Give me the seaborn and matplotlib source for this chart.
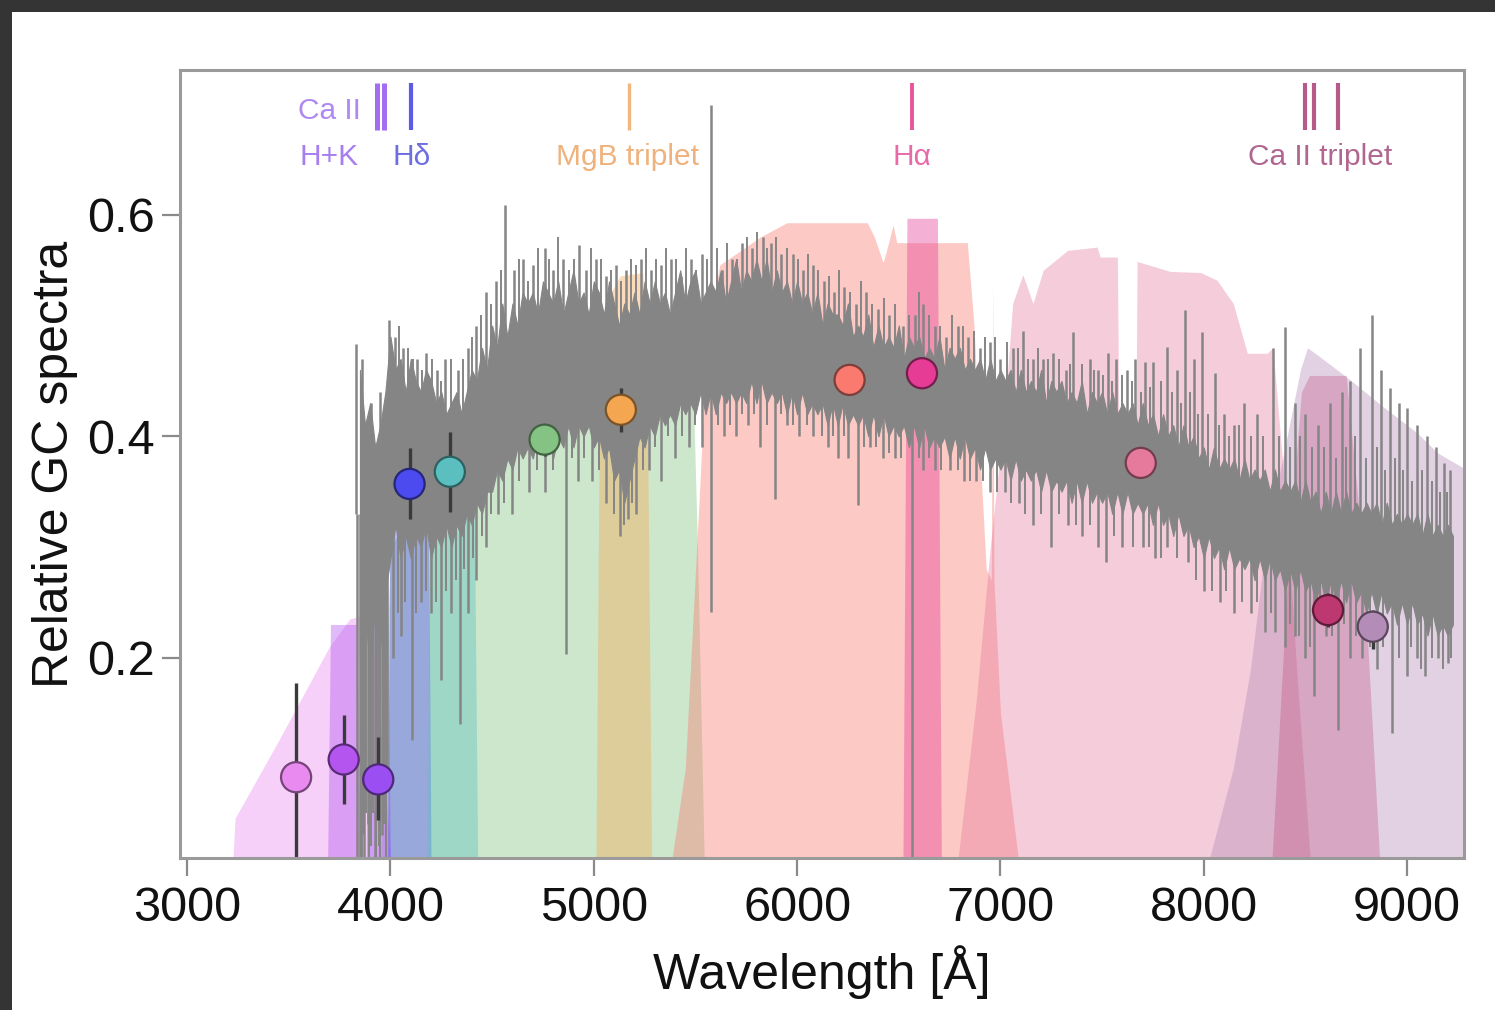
import numpy as np
import matplotlib
matplotlib.use("Agg")
import matplotlib.pyplot as plt
from matplotlib.patches import Rectangle
import matplotlib.colors as mcolors
import seaborn as sns
import pandas as pd

# ---------------- photometry (12 bands) ----------------
band_names = ["u", "J0378", "J0395", "J0410", "J0430", "g",
              "J0515", "r", "J0660", "i", "J0861", "z"]
band_wave = [3536, 3770, 3940, 4094, 4292, 4758, 5133, 6258, 6614, 7690, 8611, 8831]
band_flux = [0.092, 0.108, 0.090, 0.357, 0.368, 0.397, 0.424, 0.451, 0.457, 0.376, 0.243, 0.228]
band_err_lo = [0.092, 0.040, 0.037, 0.032, 0.036, 0.015, 0.020, 0.010, 0.010, 0.010, 0.015, 0.020]
band_err_hi = [0.085, 0.040, 0.038, 0.032, 0.036, 0.010, 0.020, 0.010, 0.010, 0.010, 0.015, 0.015]
band_colors = ["#e98af0", "#b455f0", "#9b4ff2", "#4b4bf0", "#5cbfbf", "#84c384",
               "#f5a650", "#fa7a70", "#e63c96", "#e67a9c", "#bd3870", "#b48cb8"]
filt_alpha = [0.40, 0.40, 0.40, 0.40, 0.40, 0.40, 0.40, 0.40, 0.40, 0.38, 0.28, 0.40]

# ---------------- filter transmission curves ----------------
u_filt_wave = [3220, 3236, 3450, 3700, 3800, 3900, 3960, 4010]
u_filt_trans = [0.0, 0.055, 0.125, 0.21, 0.235, 0.24, 0.12, 0.0]
j0378_filt_wave = [3690, 3705, 3835, 3850]
j0378_filt_trans = [0.0, 0.23, 0.23, 0.0]
j0395_filt_wave = [3880, 3895, 3985, 4000]
j0395_filt_trans = [0.0, 0.30, 0.30, 0.0]
j0410_filt_wave = [3985, 4000, 4185, 4200]
j0410_filt_trans = [0.0, 0.40, 0.40, 0.0]
j0430_filt_wave = [4180, 4195, 4410, 4430]
j0430_filt_trans = [0.0, 0.38, 0.38, 0.0]
g_filt_wave = [3950, 4000, 4200, 4400, 4500, 4600, 5300, 5480, 5510, 5545]
g_filt_trans = [0.0, 0.30, 0.36, 0.40, 0.45, 0.48, 0.50, 0.50, 0.30, 0.0]
j0515_filt_wave = [5010, 5030, 5070, 5130, 5240, 5260, 5285]
j0515_filt_trans = [0.0, 0.48, 0.525, 0.545, 0.548, 0.50, 0.0]
r_filt_wave = [5370, 5450, 5520, 5560, 5620, 5700, 5818, 5950, 6345, 6380, 6423, 6450,
               6472, 6490, 6517, 6837, 6870, 6895, 6930, 6955, 6962, 6968, 7000, 7100]
r_filt_trans = [0.0, 0.10, 0.35, 0.50, 0.555, 0.565, 0.58, 0.593, 0.593, 0.58, 0.557, 0.575,
                0.591, 0.575, 0.575, 0.575, 0.50, 0.40, 0.28, 0.27, 0.54, 0.27, 0.15, 0.0]
j0660_filt_wave = [6520, 6540, 6690, 6710]
j0660_filt_trans = [0.0, 0.597, 0.597, 0.0]
i_filt_wave = [6780, 6880, 6950, 7020, 7060, 7110, 7160, 7210, 7330, 7475, 7490, 7575, 7585,
               7665, 7672, 7835, 7985, 8065, 8145, 8214, 8312, 8340, 8400, 8460, 8530]
i_filt_trans = [0.0, 0.16, 0.30, 0.42, 0.52, 0.546, 0.52, 0.55, 0.568, 0.571, 0.562, 0.562, 0.35,
                0.35, 0.558, 0.549, 0.548, 0.541, 0.52, 0.475, 0.475, 0.48, 0.35, 0.18, 0.0]
j0861_filt_wave = [8330, 8420, 8480, 8520, 8700, 8780, 8870]
j0861_filt_trans = [0.0, 0.30, 0.44, 0.455, 0.455, 0.30, 0.0]
z_filt_wave = [8000, 8030, 8145, 8230, 8310, 8410, 8475, 8510, 8570, 8720, 8880, 9050, 9150, 9290]
z_filt_trans = [0.0, 0.02, 0.10, 0.19, 0.31, 0.40, 0.46, 0.48, 0.472, 0.451, 0.427, 0.403, 0.385, 0.37]

# ---------------- GC spectrum (25 A sampling, 3850-9225 A) ----------------
spec_wave = np.arange(3850, 9226, 25)
spec_high = [0.46, 0.41,
             0.43, 0.39, 0.41, 0.44,  0.49, 0.46, 0.47, 0.44,  0.47, 0.45, 0.44, 0.46,
             0.45, 0.43, 0.44, 0.42,  0.43, 0.44, 0.42, 0.44,  0.46, 0.45, 0.48, 0.46,
             0.50, 0.48, 0.52, 0.49,  0.52, 0.50, 0.53, 0.52,  0.53, 0.51, 0.54, 0.53,
             0.52, 0.54, 0.51, 0.53,  0.55, 0.52, 0.53, 0.51,  0.54, 0.53, 0.51, 0.54,
             0.52, 0.50, 0.52, 0.51,  0.53, 0.51, 0.54, 0.52,  0.54, 0.52, 0.53, 0.51,
             0.53, 0.55, 0.52, 0.54,  0.55, 0.52, 0.53, 0.54,  0.53, 0.55, 0.52, 0.54,
             0.56, 0.53, 0.55, 0.54,  0.56, 0.54, 0.56, 0.53,  0.55, 0.53, 0.54, 0.52,
             0.54, 0.52, 0.53, 0.51,  0.53, 0.50, 0.52, 0.51,  0.51, 0.50, 0.52, 0.49,
             0.50, 0.49, 0.51, 0.48,  0.50, 0.48, 0.49, 0.48,  0.50, 0.47, 0.49, 0.48,
             0.49, 0.47, 0.48, 0.47,  0.49, 0.46, 0.48, 0.47,  0.48, 0.46, 0.47, 0.46,
             0.47, 0.45, 0.47, 0.45,  0.46, 0.45, 0.46, 0.44,  0.46, 0.44, 0.45, 0.44,
             0.46, 0.43, 0.45, 0.44,  0.45, 0.43, 0.44, 0.43,  0.45, 0.42, 0.44, 0.43,
             0.44, 0.42, 0.44, 0.42,  0.43, 0.42, 0.43, 0.41,  0.43, 0.41, 0.42, 0.40,
             0.42, 0.40, 0.41, 0.39,  0.41, 0.39, 0.40, 0.38,  0.39, 0.37, 0.39, 0.37,
             0.38, 0.37, 0.38, 0.36,  0.38, 0.36, 0.37, 0.36,  0.37, 0.35, 0.37, 0.35,
             0.36, 0.35, 0.36, 0.34,  0.36, 0.34, 0.35, 0.33,  0.35, 0.33, 0.35, 0.33,
             0.35, 0.33, 0.34, 0.33,  0.34, 0.33, 0.34, 0.32,  0.34, 0.32, 0.33, 0.32,
             0.33, 0.32, 0.33, 0.31,  0.33, 0.31, 0.32, 0.31,
             0.32, 0.31]
spec_low = [0.20, 0.24,
            0.19, 0.25, 0.21, 0.26,  0.29, 0.32, 0.29, 0.31,  0.29, 0.31, 0.30, 0.32,
            0.29, 0.31, 0.30, 0.32,  0.30, 0.32, 0.31, 0.33,  0.32, 0.34, 0.33, 0.35,
            0.35, 0.37, 0.36, 0.38,  0.37, 0.39, 0.38, 0.39,  0.38, 0.40, 0.39, 0.40,
            0.38, 0.40, 0.39, 0.41,  0.39, 0.41, 0.40, 0.41,  0.39, 0.40, 0.38, 0.39,
            0.36, 0.37, 0.34, 0.36,  0.38, 0.40, 0.39, 0.41,  0.40, 0.42, 0.41, 0.42,
            0.41, 0.43, 0.42, 0.43,  0.42, 0.44, 0.42, 0.44,  0.42, 0.44, 0.43, 0.44,
            0.43, 0.44, 0.43, 0.45,  0.43, 0.45, 0.43, 0.44,  0.43, 0.44, 0.42, 0.44,
            0.42, 0.44, 0.42, 0.43,  0.42, 0.43, 0.41, 0.43,  0.41, 0.43, 0.41, 0.42,
            0.41, 0.42, 0.40, 0.42,  0.40, 0.42, 0.40, 0.41,  0.40, 0.41, 0.39, 0.41,
            0.39, 0.41, 0.39, 0.40,  0.39, 0.40, 0.38, 0.40,  0.38, 0.40, 0.38, 0.39,
            0.37, 0.39, 0.37, 0.38,  0.37, 0.38, 0.36, 0.38,  0.36, 0.37, 0.36, 0.37,
            0.35, 0.37, 0.35, 0.36,  0.35, 0.36, 0.34, 0.36,  0.34, 0.36, 0.34, 0.35,
            0.34, 0.35, 0.33, 0.35,  0.33, 0.35, 0.33, 0.34,  0.33, 0.34, 0.32, 0.34,
            0.32, 0.33, 0.31, 0.33,  0.31, 0.32, 0.30, 0.31,  0.29, 0.31, 0.29, 0.30,
            0.28, 0.30, 0.28, 0.29,  0.28, 0.29, 0.27, 0.29,  0.27, 0.29, 0.27, 0.28,
            0.26, 0.28, 0.26, 0.28,  0.26, 0.27, 0.25, 0.27,  0.25, 0.27, 0.25, 0.27,
            0.25, 0.27, 0.25, 0.26,  0.24, 0.26, 0.24, 0.26,  0.24, 0.25, 0.23, 0.25,
            0.23, 0.25, 0.23, 0.24,  0.22, 0.24, 0.22, 0.23,
            0.22, 0.23]

# strong pixels rising above the dense band
up_hair_wave = [3830, 3862, 3905, 3950, 3995, 4020, 4060, 4130, 4175, 4230,
                4270, 4330, 4380, 4420, 4470, 4520, 4565, 4610, 4650, 4700,
                4760, 4800, 4850, 4925, 4960, 5010, 5060, 5110, 5160, 5230,
                5280, 5330, 5380, 5430, 5480, 5530, 5577, 5630, 5680, 5730,
                5780, 5830, 5870, 5920, 5980, 6030, 6080, 6130, 6180, 6230,
                6290, 6340, 6400, 6450, 6520, 6580, 6620, 6680, 6730, 6790,
                6840, 6900, 6950, 7000, 7060, 7110, 7160, 7210, 7260, 7320,
                7358, 7440, 7480, 7530, 7570, 7620, 7660, 7713, 7750, 7820,
                7870, 7910, 7950, 7990, 8055, 8100, 8150, 8200, 8260, 8340,
                8400, 8450, 8500, 8560, 8620, 8680, 8720, 8770, 8825, 8870,
                8915, 8960, 9000, 9050, 9100, 9140, 9180, 9210]
up_hair_top = [0.483, 0.47, 0.43, 0.44, 0.505, 0.49, 0.48, 0.47, 0.475, 0.46,
               0.47, 0.46, 0.48, 0.50, 0.53, 0.54, 0.609, 0.55, 0.56, 0.555,
               0.57, 0.55, 0.56, 0.573, 0.55, 0.56, 0.545, 0.555, 0.55, 0.56,
               0.55, 0.555, 0.56, 0.545, 0.56, 0.565, 0.699, 0.55, 0.56, 0.575,
               0.57, 0.58, 0.575, 0.565, 0.565, 0.55, 0.555, 0.54, 0.53, 0.535,
               0.52, 0.53, 0.515, 0.51, 0.50, 0.51, 0.52, 0.50, 0.49, 0.50,
               0.49, 0.48, 0.485, 0.47, 0.48, 0.495, 0.47, 0.47, 0.475, 0.46,
               0.494, 0.47, 0.46, 0.475, 0.47, 0.46, 0.47, 0.467, 0.467, 0.481,
               0.46, 0.514, 0.47, 0.494, 0.457, 0.42, 0.41, 0.43, 0.42, 0.48,
               0.499, 0.43, 0.42, 0.41, 0.43, 0.44, 0.45, 0.48, 0.51, 0.46,
               0.444, 0.43, 0.426, 0.41, 0.40, 0.39, 0.376, 0.37]
up_fine_wave = [4040, 4085, 4110, 4155, 4205, 4250, 4300, 4355, 4400, 4445, 4495, 4545,
                4630, 4675, 4725, 4780, 4825, 4880, 4905, 4985, 5035, 5085, 5135, 5185,
                5210, 5255, 5305, 5355, 5405, 5455, 5505, 5555, 5605, 5655,
                5705, 5755, 5805, 5850, 5895, 5950, 6005, 6055, 6105, 6155,
                6205, 6260, 6315, 6370, 6425, 6480, 6550, 6600, 6650, 6705,
                6760, 6815, 6870, 6925, 6975, 7030, 7085, 7135, 7185, 7235,
                7290, 7340, 7400, 7460, 7505, 7550, 7600, 7645, 7690, 7735,
                7790, 7845, 7890, 7930, 7970, 8020,
                8075, 8125, 8175, 8230, 8290, 8370, 8425, 8475, 8530, 8590,
                8650, 8700, 8745, 8800, 8850, 8890, 8940, 8980, 9025, 9075,
                9120, 9160, 9195]
up_fine_top = [0.50, 0.48, 0.47, 0.46, 0.47, 0.45, 0.47, 0.47, 0.49, 0.51, 0.52, 0.55,
               0.56, 0.54, 0.57, 0.56, 0.58, 0.55, 0.56, 0.57, 0.56, 0.55, 0.54, 0.56,
               0.555, 0.57, 0.56, 0.57, 0.56, 0.57, 0.55, 0.56, 0.57, 0.575,
               0.56, 0.58, 0.585, 0.57, 0.58, 0.57, 0.56, 0.565, 0.55, 0.545,
               0.55, 0.53, 0.54, 0.52, 0.525, 0.52, 0.51, 0.53, 0.51, 0.50,
               0.51, 0.50, 0.495, 0.49, 0.49, 0.485, 0.48, 0.47, 0.48, 0.47,
               0.47, 0.465, 0.465, 0.46, 0.455, 0.45, 0.455, 0.45, 0.44, 0.445,
               0.45, 0.44, 0.43, 0.44, 0.42, 0.42,
               0.41, 0.40, 0.41, 0.40, 0.40, 0.40, 0.39, 0.40, 0.39, 0.39,
               0.38, 0.39, 0.40, 0.38, 0.39, 0.37, 0.38, 0.37, 0.36, 0.37,
               0.36, 0.35, 0.35]

# absorption features and low pixels dropping below the band
dn_hair_wave = [3835, 3848, 3872, 3890, 3922, 3960, 3985, 4015, 4050, 4105,
                4150, 4200, 4250, 4300, 4340, 4380, 4420, 4470, 4530, 4600,
                4680, 4760, 4862, 4920, 4990, 5060, 5130, 5170, 5210, 5270,
                5330, 5400, 5470, 5530, 5577, 5640, 5700, 5760, 5815, 5890,
                5950, 6010, 6080, 6150, 6200, 6250, 6300, 6360, 6420, 6480,
                6563, 6620, 6680, 6750, 6820, 6880, 6950, 7020, 7090, 7160,
                7250, 7330, 7400, 7480, 7520, 7600, 7700, 7760, 7820, 7920,
                8000, 8080, 8150, 8230, 8300, 8350, 8400, 8450, 8498, 8542,
                8600, 8662, 8720, 8780, 8850, 8925, 9000, 9050, 9090, 9150,
                9200]
dn_hair_bot = [0.02, 0.02, 0.02, 0.05, 0.02, 0.04, 0.10, 0.20, 0.22, 0.126,
               0.25, 0.24, 0.18, 0.24, 0.14, 0.24, 0.27, 0.30, 0.33, 0.33,
               0.35, 0.35, 0.203, 0.36, 0.36, 0.34, 0.31, 0.325, 0.33, 0.37,
               0.36, 0.38, 0.39, 0.39, 0.241, 0.40, 0.40, 0.41, 0.39, 0.343,
               0.41, 0.40, 0.40, 0.39, 0.38, 0.38, 0.338, 0.39, 0.38, 0.38,
               0.02, 0.37, 0.37, 0.37, 0.36, 0.36, 0.35, 0.35, 0.34, 0.32,
               0.30, 0.32, 0.31, 0.30, 0.286, 0.30, 0.30, 0.29, 0.30, 0.286,
               0.26, 0.25, 0.24, 0.24, 0.223, 0.223, 0.21, 0.22, 0.20, 0.165,
               0.22, 0.135, 0.20, 0.20, 0.19, 0.132, 0.183, 0.20, 0.183, 0.20,
               0.195]
dn_fine_wave = [3855, 3860, 3867, 3880, 3895, 3905, 3912, 3928, 3935, 3942, 3950, 3966,
                3972, 3978, 4035, 4070, 4125, 4175, 4225, 4275,
                4320, 4360, 4405, 4450, 4495, 4560,
                4630, 4720, 4800, 4895, 4950, 5025, 5100, 5150, 5190, 5240,
                5300, 5365, 5435, 5500, 5610, 5670, 5730, 5790, 5850, 5920,
                5980, 6050, 6120, 6175, 6230, 6330, 6390, 6450, 6510, 6600,
                6650, 6710, 6790, 6850, 6915, 6985, 7050, 7120, 7200, 7290,
                7370, 7440, 7560, 7650, 7730, 7790, 7870, 7960, 8040, 8110,
                8190, 8260, 8330, 8425, 8470, 8520, 8570, 8630, 8690, 8750,
                8815, 8880, 8960, 9020, 9070, 9120, 9175, 9215]
dn_fine_bot = [0.02, 0.02, 0.04, 0.06, 0.02, 0.03, 0.06, 0.02, 0.08, 0.03, 0.02, 0.05,
               0.12, 0.02, 0.24, 0.25, 0.24, 0.26, 0.25, 0.26,
               0.27, 0.28, 0.29, 0.31, 0.33, 0.34,
               0.36, 0.37, 0.37, 0.38, 0.38, 0.37, 0.33, 0.32, 0.34, 0.37,
               0.39, 0.40, 0.40, 0.41, 0.41, 0.41, 0.42, 0.42, 0.41, 0.42,
               0.41, 0.41, 0.40, 0.40, 0.40, 0.39, 0.39, 0.385, 0.38, 0.38,
               0.38, 0.37, 0.37, 0.36, 0.36, 0.35, 0.34, 0.33, 0.33, 0.33,
               0.32, 0.32, 0.31, 0.30, 0.30, 0.29, 0.29, 0.27, 0.26, 0.26,
               0.25, 0.25, 0.24, 0.23, 0.22, 0.21, 0.23, 0.22, 0.23, 0.22,
               0.21, 0.21, 0.20, 0.21, 0.19, 0.20, 0.19, 0.20]

# ---------------- spectral features marked along the top ----------------
cahk_wave = [3934, 3969]
hdelta_wave = [4102]
mgb_wave = [5175]
halpha_wave = [6563]
cat_wave = [8498, 8542, 8662]

# ---------------- figure ----------------
sns.set_style("ticks")
plt.rcParams["font.family"] = ["Liberation Sans", "DejaVu Sans"]

fig = plt.figure(figsize=(14.95, 10.10), dpi=100)
fig.patch.set_facecolor("white")
fig.patches.append(Rectangle((0, 1 - 12 / 1010), 1, 12 / 1010, transform=fig.transFigure,
                             facecolor="#343434", edgecolor="none", zorder=0))
fig.patches.append(Rectangle((0, 0), 12 / 1495, 1, transform=fig.transFigure,
                             facecolor="#343434", edgecolor="none", zorder=0))

ax = fig.add_axes([0.1204, 0.1505, 0.8589, 0.7802])
ax.set_facecolor("white")

filters = [
    (u_filt_wave, u_filt_trans), (j0378_filt_wave, j0378_filt_trans),
    (j0395_filt_wave, j0395_filt_trans), (j0410_filt_wave, j0410_filt_trans),
    (j0430_filt_wave, j0430_filt_trans), (g_filt_wave, g_filt_trans),
    (j0515_filt_wave, j0515_filt_trans), (r_filt_wave, r_filt_trans),
    (j0660_filt_wave, j0660_filt_trans), (i_filt_wave, i_filt_trans),
    (j0861_filt_wave, j0861_filt_trans), (z_filt_wave, z_filt_trans),
]
draw_order = [5, 0, 1, 2, 3, 4, 6, 7, 8, 9, 11, 10]
for k in draw_order:
    w, t = filters[k]
    ax.fill_between(w, 0, t, color=band_colors[k], alpha=filt_alpha[k], lw=0, zorder=1)

# spectrum
grey = "#858585"
ax.fill_between(spec_wave, spec_low, spec_high, color=grey, lw=0.8, edgecolor=grey, zorder=2)
spec_mid = (np.array(spec_high) + np.array(spec_low)) / 2
ax.vlines(up_hair_wave, np.interp(up_hair_wave, spec_wave, spec_mid), up_hair_top,
          color=grey, lw=1.8, zorder=2)
ax.vlines(up_fine_wave, np.interp(up_fine_wave, spec_wave, spec_mid), up_fine_top,
          color=grey, lw=1.4, zorder=2)
ax.vlines(dn_hair_wave, dn_hair_bot, np.interp(dn_hair_wave, spec_wave, spec_mid),
          color=grey, lw=1.8, zorder=2)
ax.vlines(dn_fine_wave, dn_fine_bot, np.interp(dn_fine_wave, spec_wave, spec_mid),
          color=grey, lw=1.4, zorder=2)

# photometric points with errors
ax.errorbar(band_wave, band_flux, yerr=[band_err_lo, band_err_hi], fmt="none",
            ecolor="#3a3a3a", elinewidth=2.4, capsize=0, zorder=3)
edge_cols = [tuple(c * 0.5 for c in mcolors.to_rgb(col)) for col in band_colors]
phot = pd.DataFrame({"wave": band_wave, "flux": band_flux, "band": band_names})
sns.scatterplot(data=phot, x="wave", y="flux", hue="band",
                palette=dict(zip(band_names, band_colors)), s=470,
                edgecolor=edge_cols, linewidth=1.6, legend=False, ax=ax, zorder=4)

# feature markers
y0, y1 = 0.677, 0.719
ax.vlines(cahk_wave, y0, y1, color="#a46cf0", lw=3.6, zorder=5)
ax.vlines(hdelta_wave, y0, y1, color="#5b5be8", lw=3.0, zorder=5)
ax.vlines(mgb_wave, y0, y1, color="#f2b77c", lw=2.4, zorder=5)
ax.vlines(halpha_wave, y0, y1, color="#e8559c", lw=2.8, zorder=5)
ax.vlines(cat_wave, y0, y1, color="#b65a8a", lw=3.0, zorder=5)

fs = 21.5
ax.text(3700, 0.694, "Ca II", color="#b088f2", fontsize=fs, ha="center", va="center")
ax.text(3700, 0.652, "H+K", color="#a67ef0", fontsize=fs, ha="center", va="center")
ax.text(4102, 0.652, "Hδ", color="#6e6ee2", fontsize=fs, ha="center", va="center")
ax.text(5165, 0.652, "MgB triplet", color="#f0b27c", fontsize=fs, ha="center", va="center")
ax.text(6563, 0.652, "Hα", color="#e86aa8", fontsize=fs, ha="center", va="center")
ax.text(8573, 0.652, "Ca II triplet", color="#b06690", fontsize=fs, ha="center", va="center")

# axes styling
ax.set_xlim(2965, 9280)
ax.set_ylim(0.019, 0.731)
ax.set_xticks([3000, 4000, 5000, 6000, 7000, 8000, 9000])
ax.set_yticks([0.2, 0.4, 0.6])
for sp in ax.spines.values():
    sp.set_color("#9a9a9a")
    sp.set_linewidth(2.2)
    sp.set_zorder(6)
ax.tick_params(axis="both", which="major", direction="out", length=13, width=1.6,
               color="#8a8a8a", labelsize=35, labelcolor="#111111")
ax.tick_params(axis="x", pad=7)
ax.tick_params(axis="y", pad=5)
ax.set_xlabel("Wavelength [Å]", fontsize=36, color="#111111", labelpad=10)
ax.set_ylabel("Relative GC spectra", fontsize=36, color="#111111", labelpad=7)

fig.savefig("out.png", dpi=100, facecolor="white")
